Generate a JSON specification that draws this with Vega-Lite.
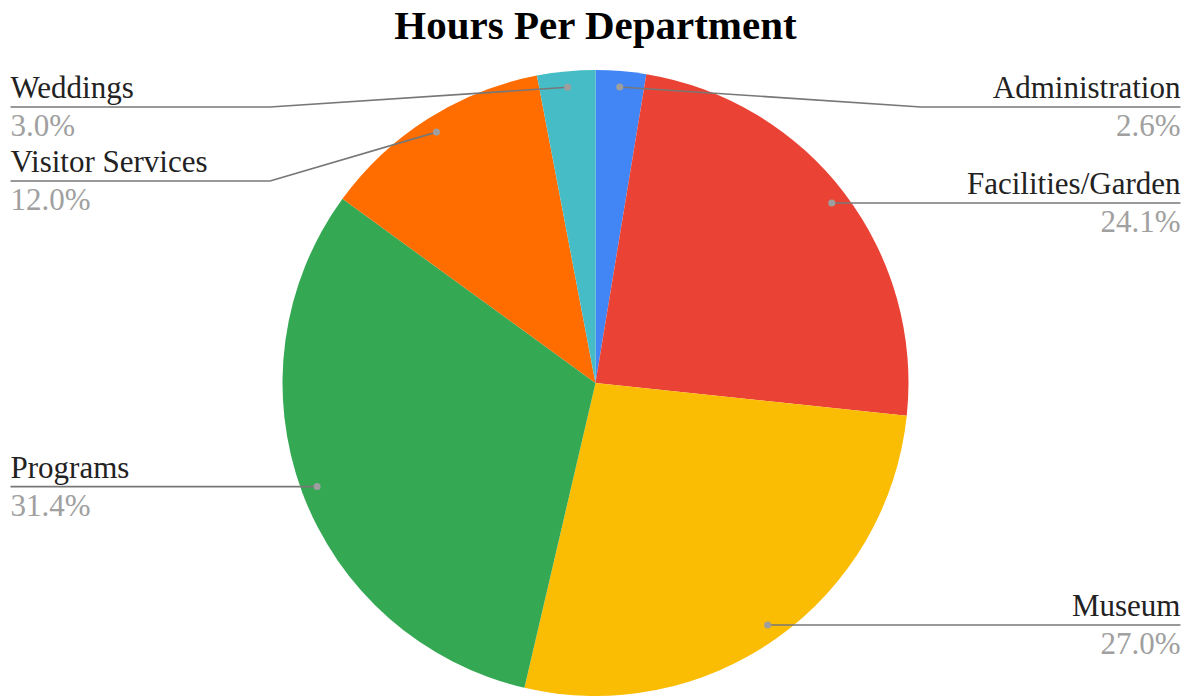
{
  "$schema": "https://vega.github.io/schema/vega-lite/v6.json",
  "width": 1191,
  "height": 630,
  "autosize": {"type": "none"},
  "padding": {"top": 68, "left": 0, "right": 0, "bottom": 0},
  "background": "white",
  "title": {"text": "Hours Per Department", "font": "Liberation Serif", "fontSize": 41, "fontWeight": "bold", "color": "#000000", "anchor": "middle", "offset": 20},
  "data": {"values": [
    {"dept": "Administration", "share": 0.026},
    {"dept": "Facilities/Garden", "share": 0.241},
    {"dept": "Museum", "share": 0.270},
    {"dept": "Programs", "share": 0.314},
    {"dept": "Visitor Services", "share": 0.120},
    {"dept": "Weddings", "share": 0.030}
  ]},
  "transform": [
    {"joinaggregate": [{"op": "sum", "field": "share", "as": "total"}]},
    {"window": [{"op": "sum", "field": "share", "as": "cum"}], "sort": [{"field": "dept", "order": "ascending"}], "frame": [null, 0]},
    {"calculate": "(datum.cum - datum.share / 2) / datum.total * 2 * PI", "as": "mid"},
    {"calculate": "0.949 * sin(datum.mid)", "as": "dx"},
    {"calculate": "0.949 * cos(datum.mid)", "as": "dy"},
    {"calculate": "datum.mid < PI ? 1 : -1", "as": "side"},
    {"calculate": "datum.mid < PI ? datum.mid : -datum.mid", "as": "key"},
    {"window": [{"op": "row_number", "as": "rank"}], "groupby": ["side"], "sort": [{"field": "key", "order": "ascending"}]},
    {"calculate": "min(datum.dy, 0.882 - 0.2364 * (datum.rank - 1))", "as": "ly"},
    {"calculate": "datum.side * 1.04", "as": "ex"},
    {"calculate": "datum.side * 1.869", "as": "endx"}
  ],
  "layer": [
    {
      "mark": {"type": "arc", "outerRadius": 313},
      "encoding": {
        "theta": {"field": "share", "type": "quantitative", "stack": true},
        "color": {"field": "dept", "type": "nominal", "legend": null,
          "scale": {"domain": ["Administration", "Facilities/Garden", "Museum", "Programs", "Visitor Services", "Weddings"],
                    "range": ["#4285F4", "#EA4335", "#FBBC04", "#34A853", "#FF6D01", "#46BDC6"]}},
        "order": {"field": "dept", "sort": "ascending"}
      }
    },
    {
      "mark": {"type": "rule", "color": "#777777", "strokeWidth": 1.6},
      "encoding": {
        "x": {"field": "dx", "type": "quantitative", "axis": null, "scale": {"domain": [-1.9026, 1.9026], "nice": false, "zero": false}},
        "y": {"field": "dy", "type": "quantitative", "axis": null, "scale": {"domain": [-1.00639, 1.00639], "nice": false, "zero": false}},
        "x2": {"field": "ex"},
        "y2": {"field": "ly"}
      }
    },
    {
      "mark": {"type": "rule", "color": "#777777", "strokeWidth": 1.6},
      "encoding": {
        "x": {"field": "ex", "type": "quantitative", "axis": null, "scale": {"domain": [-1.9026, 1.9026], "nice": false, "zero": false}},
        "y": {"field": "ly", "type": "quantitative", "axis": null, "scale": {"domain": [-1.00639, 1.00639], "nice": false, "zero": false}},
        "x2": {"field": "endx"},
        "y2": {"field": "ly"}
      }
    },
    {
      "mark": {"type": "circle", "color": "#9E9E9E", "opacity": 1, "size": 50},
      "encoding": {
        "x": {"field": "dx", "type": "quantitative", "axis": null, "scale": {"domain": [-1.9026, 1.9026], "nice": false, "zero": false}},
        "y": {"field": "dy", "type": "quantitative", "axis": null, "scale": {"domain": [-1.00639, 1.00639], "nice": false, "zero": false}}
      }
    },
    {
      "transform": [{"filter": "datum.side == 1"}],
      "mark": {"type": "text", "align": "right", "baseline": "alphabetic", "dy": -9, "font": "Liberation Serif", "fontSize": 31, "color": "#222222"},
      "encoding": {
        "x": {"field": "endx", "type": "quantitative", "axis": null, "scale": {"domain": [-1.9026, 1.9026], "nice": false, "zero": false}},
        "y": {"field": "ly", "type": "quantitative", "axis": null, "scale": {"domain": [-1.00639, 1.00639], "nice": false, "zero": false}},
        "text": {"field": "dept", "type": "nominal"}
      }
    },
    {
      "transform": [{"filter": "datum.side == 1"}],
      "mark": {"type": "text", "align": "right", "baseline": "alphabetic", "dy": 29, "font": "Liberation Serif", "fontSize": 31, "color": "#A0A0A0"},
      "encoding": {
        "x": {"field": "endx", "type": "quantitative", "axis": null, "scale": {"domain": [-1.9026, 1.9026], "nice": false, "zero": false}},
        "y": {"field": "ly", "type": "quantitative", "axis": null, "scale": {"domain": [-1.00639, 1.00639], "nice": false, "zero": false}},
        "text": {"field": "share", "type": "quantitative", "format": ".1%"}
      }
    },
    {
      "transform": [{"filter": "datum.side == -1"}],
      "mark": {"type": "text", "align": "left", "baseline": "alphabetic", "dy": -9, "font": "Liberation Serif", "fontSize": 31, "color": "#222222"},
      "encoding": {
        "x": {"field": "endx", "type": "quantitative", "axis": null, "scale": {"domain": [-1.9026, 1.9026], "nice": false, "zero": false}},
        "y": {"field": "ly", "type": "quantitative", "axis": null, "scale": {"domain": [-1.00639, 1.00639], "nice": false, "zero": false}},
        "text": {"field": "dept", "type": "nominal"}
      }
    },
    {
      "transform": [{"filter": "datum.side == -1"}],
      "mark": {"type": "text", "align": "left", "baseline": "alphabetic", "dy": 29, "font": "Liberation Serif", "fontSize": 31, "color": "#A0A0A0"},
      "encoding": {
        "x": {"field": "endx", "type": "quantitative", "axis": null, "scale": {"domain": [-1.9026, 1.9026], "nice": false, "zero": false}},
        "y": {"field": "ly", "type": "quantitative", "axis": null, "scale": {"domain": [-1.00639, 1.00639], "nice": false, "zero": false}},
        "text": {"field": "share", "type": "quantitative", "format": ".1%"}
      }
    }
  ],
  "config": {"view": {"stroke": null}}
}
